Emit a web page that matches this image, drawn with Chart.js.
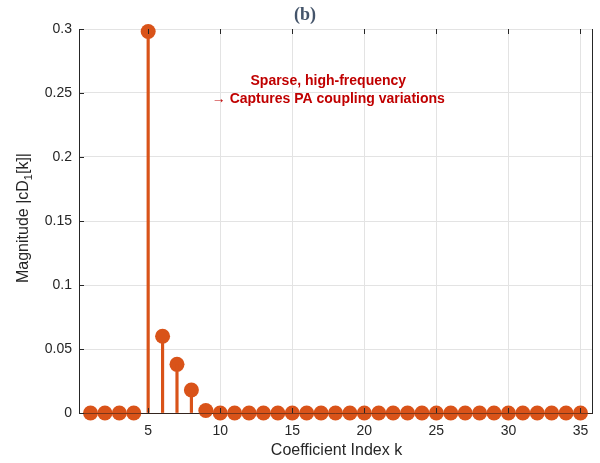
<!DOCTYPE html>
<html lang="en">
<head>
<meta charset="UTF-8" />
<title>cD1 coefficient magnitudes</title>
<script src="https://cdn.jsdelivr.net/npm/chart.js"></script>
<style>
  body { margin: 0; background: #fff; }
  #wrap { width: 600px; height: 463px; position: relative; }
</style>
</head>
<body>

<div id="wrap">
  <canvas id="stemChart"></canvas>
</div>

<script>
  // data
  const coeffIndex = [1, 2, 3, 4, 5, 6, 7, 8, 9, 10, 11, 12, 13, 14, 15, 16, 17, 18,
                      19, 20, 21, 22, 23, 24, 25, 26, 27, 28, 29, 30, 31, 32, 33, 34, 35];
  const magnitudes = [0, 0, 0, 0, 0.298, 0.060, 0.038, 0.018, 0.002, 0, 0, 0, 0, 0, 0, 0, 0, 0,
                      0, 0, 0, 0, 0, 0, 0, 0, 0, 0, 0, 0, 0, 0, 0, 0, 0];
  const xTicks = [5, 10, 15, 20, 25, 30, 35];
  const yTicks = [0, 0.05, 0.1, 0.15, 0.2, 0.25, 0.3];
  const plotTitle = '(b)';
  const xLabel = 'Coefficient Index k';
  const noteLines = ['Sparse, high-frequency', '\u2192 Captures PA coupling variations'];
  const notePos = { x: 17.5, y: [0.2595, 0.2455] };

  const stemColor = '#D95319';
  const axisColor = '#262626';
  const gridColor = '#E3E3E3';

  const points = coeffIndex.map((k, i) => ({ x: k, y: magnitudes[i] }));

  // labels, ticks, right edge and the axis line on top of the markers
  const decorations = {
    id: 'decorations',
    afterDatasetsDraw(chart) {
      const { ctx, chartArea: a, scales: { x, y } } = chart;
      ctx.save();
      ctx.strokeStyle = axisColor;
      ctx.lineWidth = 1;
      ctx.beginPath();
      ctx.moveTo(a.right + 0.5, a.top);
      ctx.lineTo(a.right + 0.5, a.bottom);
      ctx.stroke();

      ctx.strokeStyle = 'rgba(60, 35, 25, 0.6)';
      ctx.beginPath();
      ctx.moveTo(a.left, y.getPixelForValue(0) + 0.5);
      ctx.lineTo(a.right, y.getPixelForValue(0) + 0.5);
      ctx.stroke();

      ctx.strokeStyle = axisColor;
      ctx.beginPath();
      xTicks.forEach(v => {
        const px = Math.round(x.getPixelForValue(v)) + 0.5;
        ctx.moveTo(px, a.bottom); ctx.lineTo(px, a.bottom - 5);
        ctx.moveTo(px, a.top); ctx.lineTo(px, a.top + 5);
      });
      yTicks.forEach(v => {
        const py = Math.round(y.getPixelForValue(v)) + 0.5;
        ctx.moveTo(a.left, py); ctx.lineTo(a.left + 5, py);
      });
      ctx.stroke();
      ctx.restore();
    },
    afterDraw(chart) {
      const { ctx, chartArea: a, scales: { x, y } } = chart;
      ctx.save();

      ctx.fillStyle = '#44546A';
      ctx.font = 'bold 18px "Liberation Serif", serif';
      ctx.textAlign = 'center';
      ctx.textBaseline = 'middle';
      ctx.fillText(plotTitle, 305, 15);

      ctx.fillStyle = axisColor;
      ctx.font = '16px "Liberation Sans", Arial, sans-serif';
      ctx.fillText(xLabel, (a.left + a.right) / 2 + 1, 451);

      // y label with subscript 1
      const mainFont = '16px "Liberation Sans", Arial, sans-serif';
      const subFont = '11px "Liberation Sans", Arial, sans-serif';
      const parts = [['Magnitude |cD', mainFont, 0], ['1', subFont, 5], ['[k]|', mainFont, 0]];
      let total = 0;
      parts.forEach(p => { ctx.font = p[1]; total += ctx.measureText(p[0]).width; });
      ctx.translate(24, (a.top + a.bottom) / 2 - 3);
      ctx.rotate(-Math.PI / 2);
      ctx.textAlign = 'left';
      let cx = -total / 2;
      parts.forEach(p => {
        ctx.font = p[1];
        ctx.fillText(p[0], cx, p[2]);
        cx += ctx.measureText(p[0]).width;
      });
      ctx.setTransform(1, 0, 0, 1, 0, 0);

      ctx.fillStyle = '#C00000';
      ctx.font = 'bold 14px "Liberation Sans", Arial, sans-serif';
      ctx.textAlign = 'center';
      noteLines.forEach((t, i) => {
        ctx.fillText(t, x.getPixelForValue(notePos.x), y.getPixelForValue(notePos.y[i]));
      });
      ctx.restore();
    }
  };

  new Chart(document.getElementById('stemChart'), {
    type: 'scatter',
    data: {
      datasets: [
        {
          type: 'bar',
          data: points,
          backgroundColor: stemColor,
          barThickness: 2.5,
          grouped: false
        },
        {
          type: 'scatter',
          data: points,
          backgroundColor: stemColor,
          borderWidth: 0,
          pointRadius: 7.5,
          pointHoverRadius: 7.5,
          clip: false
        }
      ]
    },
    options: {
      responsive: true,
      maintainAspectRatio: false,
      animation: false,
      layout: { padding: { top: 29, right: 8, left: 0, bottom: 0 } },
      plugins: { legend: { display: false }, tooltip: { enabled: false } },
      scales: {
        x: {
          type: 'linear',
          min: 0.2,
          max: 35.8,
          offset: false,
          afterBuildTicks: s => { s.ticks = xTicks.map(v => ({ value: v })); },
          afterFit: s => { s.height = 50; },
          grid: { color: gridColor, drawTicks: false, offset: false },
          border: { color: axisColor },
          ticks: {
            color: axisColor,
            padding: 10,
            maxRotation: 0,
            font: { family: '"Liberation Sans", Arial, sans-serif', size: 14 }
          }
        },
        y: {
          min: 0,
          max: 0.3,
          afterBuildTicks: s => { s.ticks = yTicks.map(v => ({ value: v })); },
          afterFit: s => { s.width = 79; },
          grid: { color: gridColor, drawTicks: false },
          border: { color: axisColor },
          ticks: {
            color: axisColor,
            padding: 7,
            font: { family: '"Liberation Sans", Arial, sans-serif', size: 14 },
            callback: v => String(Number(v.toFixed(2)))
          }
        }
      }
    },
    plugins: [decorations]
  });
</script>

</body>
</html>
